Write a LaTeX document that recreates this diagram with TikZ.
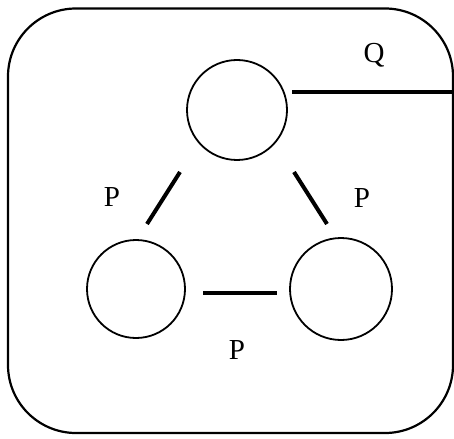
\documentclass[tikz,border=0pt]{standalone}
\usepackage{fontspec}
\setmainfont{Liberation Serif}
\begin{document}
\begin{tikzpicture}[x=1pt,y=-1pt,
  agent/.style={circle,draw,line width=1.8pt,minimum size=100pt,inner sep=0pt},
  link/.style={line width=4pt},
  lab/.style={font=\fontsize{29}{32}\selectfont,inner sep=0pt},
  frame/.style={draw,line width=2.2pt,rounded corners=68pt}]
\useasboundingbox (0,0) rectangle (454,438);
\draw[frame] (8,8.5) rectangle (453,433);
\node[agent] (top) at (237,110) {};
\node[agent,minimum size=98pt] (bl) at (136,289) {};
\node[agent,minimum size=102pt] (br) at (341,289) {};
\coordinate (q1) at (292,92);
\coordinate (q2) at (454,92);
\coordinate (l1) at (180,172);
\coordinate (l2) at (147,224);
\coordinate (r1) at (294,172);
\coordinate (r2) at (327,224);
\coordinate (b1) at (203,293);
\coordinate (b2) at (277,293);
\draw[link] (q1) -- (q2);
\draw[link] (l1) -- (l2);
\draw[link] (r1) -- (r2);
\draw[link] (b1) -- (b2);
\node[lab] (lq) at (374,55) {Q};
\node[lab] (lpl) at (112,197) {P};
\node[lab] (lpr) at (362,198) {P};
\node[lab] (lpb) at (237,350) {P};
\end{tikzpicture}
\end{document}
